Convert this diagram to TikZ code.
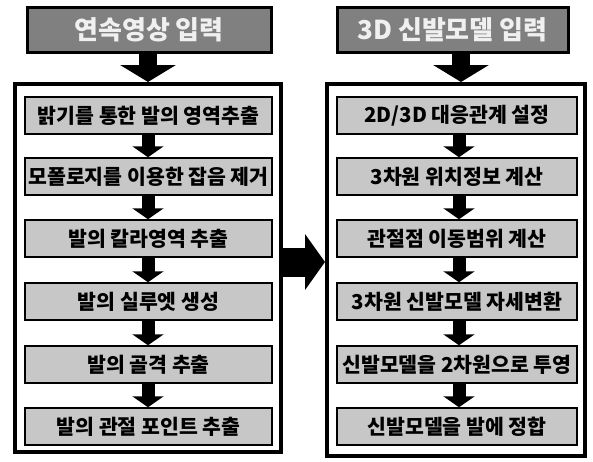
\documentclass[tikz,border=0pt]{standalone}
\usepackage{fontspec}
\setmainfont{Noto Sans CJK KR}
\usetikzlibrary{arrows.meta,calc}
\begin{document}
\begin{tikzpicture}[x=1pt,y=-1pt,
  header/.style={draw=black,line width=3pt,fill=black!50,text=black!6,font=\fontsize{26}{26}\selectfont\bfseries,inner sep=0pt,minimum height=45pt},
  stepbox/.style={draw=black,line width=1.5pt,fill=black!22,font=\fontsize{20.5}{20.5}\selectfont\bfseries,inner sep=0pt,minimum height=37pt},
  frame/.style={draw=black,line width=4pt,inner sep=0pt},
  toparrow/.style={line width=18pt,-{Triangle[length=17pt,width=55pt]}},
  smallarrow/.style={line width=13pt,-{Triangle[length=11pt,width=31pt]}},
  midarrow/.style={line width=29pt,-{Triangle[length=20pt,width=55pt]}},
]
\useasboundingbox (0,0) rectangle (593,461);
% headers
\node[header,minimum width=244pt] (lh) at (149,29.5) {연속영상 입력};
\node[header,minimum width=231pt] (rh) at (452.5,29.5) {3D 신발모델 입력};
% frames
\node[frame,minimum width=266pt,minimum height=368pt] (lf) at (148,268) {};
\node[frame,minimum width=258pt,minimum height=372pt] (rf) at (456,270) {};
% left steps
\begin{scope}[every node/.append style={stepbox,minimum width=247pt}]
\node (l1) at (148.5,115.5) {밝기를 통한 발의 영역추출};
\node (l2) at (148.5,176.5) {모폴로지를 이용한 잡음 제거};
\node (l3) at (148.5,238.5) {발의 칼라영역 추출};
\node (l4) at (148.5,301.5) {발의 실루엣 생성};
\node (l5) at (148.5,364.5) {발의 골격 추출};
\node (l6) at (148.5,426.5) {발의 관절 포인트 추출};
\end{scope}
% right steps
\begin{scope}[every node/.append style={stepbox,minimum width=240pt}]
\node (r1) at (457,115.5) {2D/3D 대응관계 설정};
\node (r2) at (457,176.5) {3차원 위치정보 계산};
\node (r3) at (457,238.5) {관절점 이동범위 계산};
\node (r4) at (457,301.5) {3차원 신발모델 자세변환};
\node (r5) at (457,364.5) {신발모델을 2차원으로 투영};
\node (r6) at (457,426.5) {신발모델을 발에 정합};
\end{scope}
% column axes
\coordinate (lx) at (148,0);
\coordinate (rx) at (461,0);
\coordinate (rs) at (459,0);
\coordinate (my) at (0,262);
% arrows
\draw[toparrow] (lh.south -| lx) -- (lf.north -| lx);
\draw[toparrow] (rh.south -| rx) -- (rf.north -| rx);
\foreach \a/\b in {l1/l2,l2/l3,l3/l4,l4/l5,l5/l6}
  \draw[smallarrow] (\a.south -| lx) -- (\b.north -| lx);
\foreach \a/\b in {r1/r2,r2/r3,r3/r4,r4/r5,r5/r6}
  \draw[smallarrow] (\a.south -| rs) -- (\b.north -| rs);
\draw[midarrow] (lf.east |- my) -- (rf.west |- my);
\end{tikzpicture}
\end{document}
